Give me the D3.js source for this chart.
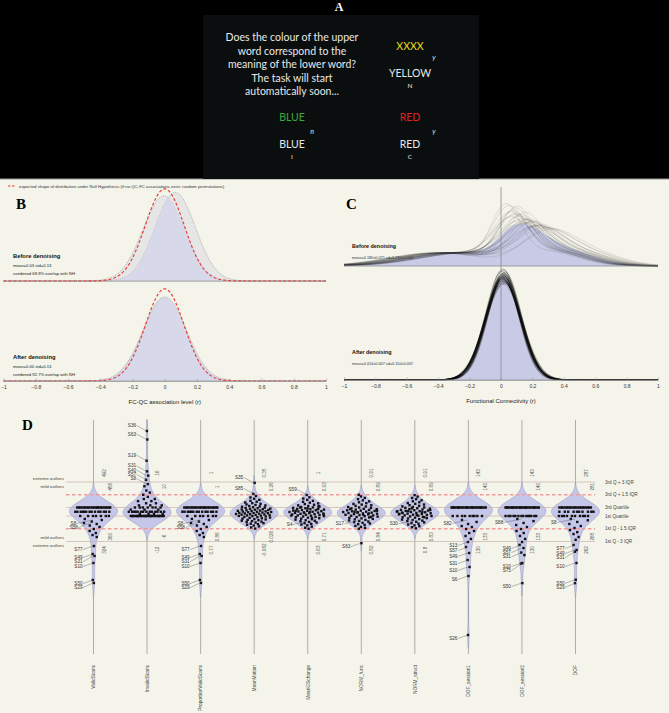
<!DOCTYPE html>
<html>
<head>
<meta charset="utf-8">
<script src="https://cdn.jsdelivr.net/npm/d3@7"></script>
<style>
body { margin: 0; background: #000; }
svg { display: block; }
</style>
</head>
<body>
<div id="chart"></div>
<script>
var w = 669, h = 713;

// ---------- panel A: task screen ----------
var promptLines = ["Does the colour of the upper", "word correspond to the",
  "meaning of the lower word?", "The task will start", "automatically soon..."];
var upperWords = ["XXXX", "BLUE", "RED"];
var upperInks = ["yellow", "green", "red"];
var lowerWords = ["YELLOW", "BLUE", "RED"];
var answers = ["y", "n", "y"];
var trialCodes = ["N", "I", "C"];

// ---------- panel B: QC-FC distributions ----------
var bTicks = [-1, -0.8, -0.6, -0.4, -0.2, 0, 0.2, 0.4, 0.6, 0.8, 1];
var bNullMean = 0, bNullSd = 0.12;
var bBeforeMeans = [-0.005, 0.065], bBeforeSds = [0.13, 0.125];
var bAfterMeans = [-0.003, 0.003], bAfterSds = [0.132, 0.132];
var bStats = ["mean=0.03 std=0.13", "mean=0.00 std=0.13"];
var bOverlap = ["combined 68.8% overlap with NH", "combined 92.7% overlap with NH"];

// ---------- panel C: FC distributions (one curve per subject) ----------
var cBeforePeaks = [0.03,0.05,0.06,0.07,0.08,0.09,0.1,0.1,0.11,0.12,0.13,0.14,0.15,0.16,0.17,
  0.18,0.19,0.2,0.21,0.22,0.24,0.26,0.28,0.3,0.06,0.09,0.12,0.15,0.18,0.23];
var cBeforeWidths = [0.09,0.1,0.11,0.1,0.12,0.11,0.1,0.13,0.12,0.11,0.13,0.12,0.14,0.13,0.12,
  0.14,0.15,0.13,0.14,0.15,0.14,0.16,0.15,0.16,0.12,0.1,0.14,0.11,0.13,0.15];
var cBeforeTails = [-0.36,-0.22,-0.3,-0.4,-0.26,-0.33,-0.2,-0.38,-0.28,-0.35,-0.24,-0.42,-0.31,-0.27,-0.37,
  -0.21,-0.34,-0.29,-0.39,-0.25,-0.32,-0.23,-0.41,-0.3,-0.36,-0.27,-0.33,-0.22,-0.38,-0.29];
var cAfterMeans = [0.005,0.008,0.01,0.012,0.013,0.014,0.015,0.016,0.018,0.02,0.022,0.025,0.006,0.009,0.011,
  0.014,0.017,0.019,0.021,0.024,0.012,0.015,0.01,0.018,0.013,0.016,0.008,0.02,0.014,0.011];
var cAfterSds = [0.104,0.107,0.11,0.112,0.108,0.115,0.106,0.111,0.113,0.109,0.117,0.105,0.11,0.112,0.108,
  0.114,0.103,0.116,0.11,0.107,0.113,0.109,0.111,0.106,0.118,0.11,0.112,0.108,0.115,0.102];
var cStats = ["mean=0.180\u00b10.071 sd=0.230\u00b10.050", "mean=0.014\u00b10.007 sd=0.110\u00b10.007"];

// ---------- panel D: QC measures, values in IQR units above the 1st quartile ----------
var dVars = ["ValidScans", "InvalidScans", "ProportionValidScans", "MeanMotion", "MeanGSchange",
  "NORM_func", "NORM_struct", "DOF_session1", "DOF_session2", "DOF"];
var dDiscrete = [true, true, true, false, false, false, false, true, true, true];
var validScansZ = [[1,22],[0.5,14],[0,7],[-0.35,1],[-0.47,1],[-0.65,1],[-0.82,1],[-0.94,1],[-1.12,1],
  [-1.29,1],[-1.53,1],[-1.76,1],[-2,1],[-2.24,1],[-2.47,1],[-3.53,1],[-4.47,1],[-4.7,1],[-5.53,1],[-7.53,1],[-7.88,1]];
var invalidScansZ = [[0,26],[0.25,4],[0.5,14],[0.75,3],[1,7],[1.25,3],[1.5,2],[1.75,2],[2,2],[2.25,1],
  [2.5,1],[2.75,1],[3,1],[3.5,1],[3.75,1],[4.25,1],[4.75,1],[5.25,1],[6.5,1],[9,1],[10,1]];
var proportionZ = [[1,22],[0.5,14],[0,7],[-0.35,1],[-0.47,1],[-0.65,1],[-0.82,1],[-0.94,1],[-1.12,1],
  [-1.29,1],[-1.53,1],[-1.76,1],[-2,1],[-2.24,1],[-2.47,1],[-3.53,1],[-4.47,1],[-4.7,1],[-5.53,1],[-7.53,1],[-7.88,1]];
var meanMotionZ = [-1.48,-1.35,-1.22,-1.12,-1.03,-0.96,-0.9,-0.84,-0.77,-0.71,-0.66,-0.6,-0.55,-0.49,-0.45,
  -0.4,-0.36,-0.31,-0.27,-0.22,-0.18,-0.14,-0.1,-0.06,-0.02,0.01,0.04,0.07,0.1,0.13,0.16,0.18,0.21,0.24,
  0.27,0.3,0.33,0.35,0.38,0.41,0.44,0.47,0.5,0.52,0.55,0.58,0.61,0.64,0.67,0.7,0.74,0.77,0.8,0.84,0.87,
  0.91,0.95,0.99,1.03,1.08,1.13,1.18,1.24,1.3,1.36,1.43,1.51,1.59,1.68,1.78,1.9,2.03,2.18,2.35,2.6,3.9];
var meanGSZ = [-1.5,-1.38,-1.25,-1.1,-1.0,-0.92,-0.85,-0.76,-0.7,-0.62,-0.56,-0.5,-0.43,-0.38,-0.32,-0.26,
  -0.2,-0.15,-0.11,-0.06,-0.01,0.03,0.07,0.11,0.15,0.18,0.22,0.26,0.29,0.33,0.36,0.4,0.43,0.47,0.5,0.54,
  0.57,0.61,0.64,0.68,0.71,0.75,0.79,0.83,0.87,0.91,0.96,1.01,1.06,1.12,1.18,1.25,1.32,1.4,1.48,1.57,
  1.67,1.78,1.9,2.05,2.2,2.47,0.2,0.45,0.6,0.8,0.35,0.05,-0.25,1.0,1.15,0.9];
var normFuncZ = [-3.2,-1.5,-1.4,-1.28,-1.16,-1.05,-0.96,-0.88,-0.8,-0.72,-0.65,-0.58,-0.52,-0.46,-0.4,-0.34,
  -0.28,-0.22,-0.17,-0.12,-0.07,-0.02,0.03,0.07,0.11,0.15,0.19,0.23,0.27,0.31,0.35,0.39,0.43,0.47,0.51,
  0.55,0.59,0.63,0.67,0.71,0.75,0.8,0.85,0.9,0.95,1.0,1.06,1.12,1.19,1.26,1.34,1.42,1.51,1.61,1.72,1.84,
  1.98,2.13,2.3,2.5,0.3,0.5,0.62,0.15,0.8,-0.1,0.42];
var normStructZ = [-1.45,-1.32,-1.2,-1.1,-1.0,-0.91,-0.83,-0.75,-0.68,-0.61,-0.54,-0.48,-0.42,-0.36,-0.3,
  -0.25,-0.2,-0.15,-0.1,-0.05,0.0,0.04,0.08,0.12,0.16,0.2,0.24,0.28,0.32,0.36,0.4,0.44,0.48,0.52,0.56,
  0.6,0.64,0.68,0.72,0.76,0.81,0.86,0.91,0.96,1.01,1.07,1.13,1.2,1.27,1.35,1.43,1.52,1.62,1.73,1.85,
  1.98,2.12,2.28,2.45,0.25,0.45,0.58,0.7,0.1,0.35,-0.15,0.9,0.55];
var dof1Z = [[1,26],[0,9],[-0.47,1],[-0.7,1],[-0.94,1],[-1.18,1],[-1.3,1],[-1.53,1],[-1.76,1],[-2,1],
  [-2.35,1],[-2.7,1],[-3.06,1],[-3.65,1],[-4.35,1],[-5.18,1],[-6,1],[-7.06,1],[-14,1]];
var dof2Z = [[1,26],[0,14],[-0.35,1],[-0.6,1],[-0.82,1],[-1.06,1],[-1.3,1],[-1.53,1],[-1.76,1],[-2,1],
  [-2.35,1],[-2.7,1],[-3.06,1],[-3.4,1],[-3.77,1],[-4.3,1],[-4.6,1],[-5.53,1],[-5.6,1],[-7.9,1]];
var dofZ = [[1,20],[0.5,10],[0,10],[-0.35,1],[-0.5,1],[-0.7,1],[-0.94,1],[-1.18,1],[-1.41,1],[-1.65,1],
  [-1.9,1],[-2.12,1],[-2.47,1],[-2.8,1],[-3.41,1],[-4,1],[-4.2,1],[-5.53,1],[-7.5,1],[-7.9,1]];
var dValues = [validScansZ, invalidScansZ, proportionZ, meanMotionZ, meanGSZ, normFuncZ, normStructZ, dof1Z, dof2Z, dofZ];

// outlier labels: [subject, position in IQR units]
var dOutliers = [
  [["S8",-0.47],["S58",-0.65],["S77",-3.53],["S49",-4.47],["S31",-4.7],["S10",-5.53],["S50",-7.53],["S29",-7.88]],
  [["S36",10],["S63",9],["S19",6.5],["S31",5.25],["S40",4.75],["S57",4.25],["S8",3.75]],
  [["S8",-0.47],["S58",-0.65],["S77",-3.53],["S49",-4.47],["S31",-4.7],["S10",-5.53],["S50",-7.53],["S29",-7.88]],
  [["S35",3.9],["S85",2.6]],
  [["S59",2.47],["S4",-0.6]],
  [["S17",-0.5],["S63",-3.2]],
  [["S30",-0.5]],
  [["S82",-0.47],["S13",-3.06],["S57",-3.65],["S49",-4.35],["S31",-5.18],["S10",-6],["S6",-7.06],["S26",-14]],
  [["S88",-0.35],["S49",-3.4],["S57",-3.77],["S31",-4.3],["S10",-5.53],["S75",-5.6],["S50",-7.9]],
  [["S8",-0.35],["S77",-3.41],["S49",-4],["S31",-4.2],["S10",-5.53],["S50",-7.5],["S29",-7.9]]
];
var dUpperVals = [["492","456"],["16","10"],["1","1"],["0.35","0.26"],["1","0.93"],
  ["0.91","0.89"],["0.91","0.89"],["143","140"],["143","140"],["287","281"]];
var dLowerVals = [["360","324"],["-6","-12"],["0.86","0.77"],["0.026","-0.062"],["0.71","0.63"],
  ["0.84","0.82"],["0.83","0.8"],["133","130"],["133","130"],["268","262"]];
var refLevels = [4, 2.5, 1, 0, -1.5, -3];
var refNames = ["3rd Q + 3 IQR", "3rd Q + 1.5 IQR", "3rd Quartile", "1st Quartile", "1st Q - 1.5 IQR", "1st Q - 3 IQR"];
var outlierNames = [["extreme outliers", 4, -1], ["mild outliers", 4, 1], ["mild outliers", -3, -1], ["extreme outliers", -3, 1]];

// ------------------------------------------------------------------
var sans = "Liberation Sans, Arial, sans-serif";
var serif = "Liberation Serif, Times New Roman, serif";

var svg = d3.select("#chart").append("svg")
  .attr("width", w)
  .attr("height", h);

svg.append("rect").attr("width", w).attr("height", h).attr("fill", "#f4f4ea");
svg.append("rect").attr("width", w).attr("height", 179).attr("fill", "#000");
svg.append("line").attr("x1", 0).attr("x2", w).attr("y1", 179).attr("y2", 179)
  .attr("stroke", "#9a9a9a").attr("stroke-width", 1);

function npdf(x, m, s) {
  return Math.exp(-0.5 * Math.pow((x - m) / s, 2)) / (s * Math.sqrt(2 * Math.PI));
}

function panelLetter(txt, x, y, col) {
  svg.append("text").attr("x", x).attr("y", y).text(txt)
    .style("font-family", serif).style("font-weight", "bold")
    .style("font-size", "15px").attr("fill", col || "#000");
}

// ---------------- A ----------------
svg.append("text").attr("x", 339).attr("y", 11).attr("text-anchor", "middle").text("A")
  .style("font-family", serif).style("font-weight", "bold").style("font-size", "12px").attr("fill", "#fff");
svg.append("rect").attr("x", 203).attr("y", 15).attr("width", 276).attr("height", 164).attr("fill", "#0b0e0e");

var inkColor = { yellow: "#e6dd1c", green: "#3daa3a", red: "#e5201c" };
var stroopFont = "Lato, Open Sans, sans-serif";
svg.selectAll(".prompt").data(promptLines).enter().append("text")
  .attr("x", 292).attr("y", function(d, i) { return 41 + i * 13.5; })
  .attr("text-anchor", "middle").text(function(d) { return d; })
  .style("font-family", stroopFont).style("font-size", "10.5px").attr("fill", "#e8e8e8");

var slotX = [410, 292, 410], slotY = [50, 121, 121];
upperWords.forEach(function(word, i) {
  var x = slotX[i], y = slotY[i];
  svg.append("text").attr("x", x).attr("y", y).attr("text-anchor", "middle").text(word)
    .style("font-family", stroopFont).style("font-size", "10.5px").attr("fill", inkColor[upperInks[i]]);
  svg.append("text").attr("x", x).attr("y", y + 27).attr("text-anchor", "middle").text(lowerWords[i])
    .style("font-family", stroopFont).style("font-size", "10.5px").attr("fill", "#e8e8e8");
  svg.append("text").attr("x", x + (i == 1 ? 20 : 24)).attr("y", y + (i == 0 ? 10 : 13)).text(answers[i])
    .attr("text-anchor", "middle")
    .style("font-family", stroopFont).style("font-style", "italic").style("font-size", "7px").attr("fill", "#e8e8e8");
  svg.append("text").attr("x", x).attr("y", y + 38).attr("text-anchor", "middle").text(trialCodes[i])
    .style("font-family", stroopFont).style("font-size", "6.5px").attr("fill", "#e8e8e8");
});

// ---------------- B ----------------
var xB = d3.scaleLinear().domain([-1, 1]).range([3.5, 326]);
var hB = d3.scaleLinear().domain([0, 3.32]).range([0, 92]);
var grid = d3.range(-1, 1.0001, 0.005);

svg.append("line").attr("x1", 8).attr("x2", 16).attr("y1", 186).attr("y2", 186)
  .attr("stroke", "#e8413c").attr("stroke-width", 1.2).attr("stroke-dasharray", "2.5,1.5");
svg.append("text").attr("x", 19).attr("y", 187.6)
  .text("expected shape of distribution under Null Hypothesis (if no QC-FC associations exist; random permutations)")
  .style("font-family", sans).style("font-size", "4.3px").attr("fill", "#333");
panelLetter("B", 16, 209);

function drawB(base, means, sds, label, stats, overlap, textY) {
  var c1 = grid.map(function(x) { return npdf(x, means[0], sds[0]); });
  var c2 = grid.map(function(x) { return npdf(x, means[1], sds[1]); });
  var low = c1.map(function(v, i) { return Math.min(v, c2[i]); });
  var nul = grid.map(function(x) { return npdf(x, bNullMean, bNullSd); });
  var area = d3.area().x(function(d, i) { return xB(grid[i]); }).y0(base).y1(function(d) { return base - hB(d); });
  var line = d3.line().x(function(d, i) { return xB(grid[i]); }).y(function(d) { return base - hB(d); });
  [c1, c2].forEach(function(c) {
    svg.append("path").attr("d", area(c)).attr("fill", "#e2e2e5").attr("fill-opacity", 0.8)
      .attr("stroke", "#8c8c92").attr("stroke-width", 0.6).attr("stroke-dasharray", "1.2,1");
  });
  svg.append("path").attr("d", area(low)).attr("fill", "#d7d8ea");
  svg.append("line").attr("x1", xB(-1)).attr("x2", xB(1)).attr("y1", base).attr("y2", base)
    .attr("stroke", "#a0a0a0").attr("stroke-width", 0.8);
  svg.append("path").attr("d", line(nul)).attr("fill", "none").attr("stroke", "#e8413c")
    .attr("stroke-width", 1.2).attr("stroke-dasharray", "3,2");
  svg.append("text").attr("x", 13).attr("y", textY).text(label)
    .style("font-family", sans).style("font-weight", "bold").style("font-size", "5.8px").attr("fill", "#111");
  svg.append("text").attr("x", 13).attr("y", textY + 8.5).text(stats)
    .style("font-family", sans).style("font-size", "4.2px").attr("fill", "#222");
  svg.append("text").attr("x", 13).attr("y", textY + 17).text(overlap)
    .style("font-family", sans).style("font-size", "4.2px").attr("fill", "#222");
}
drawB(281, bBeforeMeans, bBeforeSds, "Before denoising", bStats[0], bOverlap[0], 258);
drawB(381, bAfterMeans, bAfterSds, "After denoising", bStats[1], bOverlap[1], 359);

function bottomAxis(scale, y, title, cx) {
  var g = svg.append("g").attr("transform", "translate(0," + y + ")")
    .call(d3.axisBottom(scale).tickValues(bTicks).tickFormat(d3.format("~g"))
      .tickSizeInner(-2.5).tickSizeOuter(0).tickPadding(4));
  g.select(".domain").attr("stroke", "#a0a0a0").attr("stroke-width", 0.8);
  g.selectAll(".tick line").attr("stroke", "#999").attr("stroke-width", 0.6);
  g.selectAll(".tick text").style("font-family", sans).style("font-size", "5px").attr("fill", "#333");
  svg.append("text").attr("x", cx).attr("y", y + 23).attr("text-anchor", "middle").text(title)
    .style("font-family", sans).style("font-size", "6px").attr("fill", "#222");
}
bottomAxis(xB, 381, "FC-QC association level (r)", xB(0));

// ---------------- C ----------------
var xC = d3.scaleLinear().domain([-1, 1]).range([344, 658]);
var hC = d3.scaleLinear().domain([0, 3.63]).range([0, 103]);
panelLetter("C", 346, 209);

function beforeDensity(x, m, s, tail) {
  return 0.4 * npdf(x, m, s) + 0.25 * npdf(x, m + 0.25, 0.2) + 0.35 * npdf(x, tail, 0.3);
}
var cBeforeCurves = cBeforePeaks.map(function(m, i) {
  return grid.map(function(x) { return beforeDensity(x, m, cBeforeWidths[i], cBeforeTails[i]); });
});
var cAfterCurves = cAfterMeans.map(function(m, i) {
  return grid.map(function(x) { return npdf(x, m, cAfterSds[i]); });
});

function drawC(base, curves, strokeCol, opacity, sw) {
  var avg = grid.map(function(x, k) { return d3.mean(curves, function(c) { return c[k]; }); });
  var area = d3.area().x(function(d, i) { return xC(grid[i]); }).y0(base).y1(function(d) { return base - hC(d); });
  var line = d3.line().x(function(d, i) { return xC(grid[i]); }).y(function(d) { return base - hC(d); });
  svg.append("path").attr("d", area(avg)).attr("fill", "#c9cbe6");
  svg.append("g").selectAll("path").data(curves).enter().append("path")
    .attr("d", line).attr("fill", "none").attr("stroke", strokeCol)
    .attr("stroke-opacity", opacity).attr("stroke-width", sw);
  svg.append("line").attr("x1", xC(-1)).attr("x2", xC(1)).attr("y1", base).attr("y2", base)
    .attr("stroke", "#8a8a8a").attr("stroke-width", 0.8);
}
drawC(266, cBeforeCurves, "#2a2a2a", 0.32, 0.4);
drawC(380, cAfterCurves, "#0a0a0a", 0.4, 0.7);
svg.append("line").attr("x1", xC(0)).attr("x2", xC(0)).attr("y1", 187).attr("y2", 380)
  .attr("stroke", "#888").attr("stroke-width", 0.8);
bottomAxis(xC, 380, "Functional Connectivity (r)", xC(0));

[["Before denoising", 248, cStats[0]], ["After denoising", 354, cStats[1]]].forEach(function(t) {
  svg.append("text").attr("x", 352).attr("y", t[1]).text(t[0])
    .style("font-family", sans).style("font-weight", "bold").style("font-size", "5.4px").attr("fill", "#111");
  svg.append("text").attr("x", 352).attr("y", t[1] + 10.5).text(t[2])
    .style("font-family", sans).style("font-size", "3.8px").attr("fill", "#333");
});

// ---------------- D ----------------
panelLetter("D", 22, 430);
var dX = d3.scalePoint().domain(dVars).range([93.5, 575.5]);
var zY = d3.scaleLinear().domain([0, 1]).range([516, 507.5]);
var zGrid = d3.range(-16.5, 11.6, 0.05);
var lineTop = 420, lineBottom = 654;

function expand(vals) {
  var out = [];
  vals.forEach(function(v) {
    if (Array.isArray(v)) { for (var k = 0; k < v[1]; k++) out.push(v[0]); }
    else out.push(v);
  });
  return out;
}

// vertical axis lines
svg.append("g").selectAll("line").data(dVars).enter().append("line")
  .attr("x1", function(d) { return dX(d); }).attr("x2", function(d) { return dX(d); })
  .attr("y1", lineTop).attr("y2", lineBottom)
  .attr("stroke", "#9a9a9a").attr("stroke-width", 0.8);

// violins
var dInfo = dVars.map(function(name, j) {
  var vals = expand(dValues[j]);
  var bw = dDiscrete[j] ? 1.0 : 0.6;
  var dens = function(z) { return d3.sum(vals, function(v) { var u = (z - v) / bw; return Math.exp(-0.5 * u * u); }); };
  var pts = zGrid.map(function(z) { return { z: z, d: dens(z) }; });
  var half = d3.scaleLinear().domain([0, d3.max(pts, function(p) { return p.d; })]).range([0, 24]);
  var cx = dX(name);
  var area = d3.area()
    .y(function(p) { return zY(p.z); })
    .x0(function(p) { return cx - half(p.d); })
    .x1(function(p) { return cx + half(p.d); });
  svg.append("path").attr("d", area(pts.filter(function(p) { return half(p.d) > 0.2; })))
    .attr("fill", "#c5c7ea").attr("stroke", "#8e90b4").attr("stroke-width", 0.5);
  return { vals: vals, dens: dens, half: half, cx: cx };
});

// reference lines
var xLeft = 66, xRight = 595;
refLevels.forEach(function(z) {
  var dashed = Math.abs(z) == 1.5 || z == 2.5;
  svg.append("line").attr("x1", xLeft).attr("x2", xRight).attr("y1", zY(z)).attr("y2", zY(z))
    .attr("stroke", dashed ? "#f19c9c" : "#c7b1aa")
    .attr("stroke-width", dashed ? 1.6 : 0.7)
    .attr("stroke-dasharray", dashed ? "3.5,2.5" : null);
});
svg.selectAll(".refname").data(refNames).enter().append("text")
  .attr("x", 605).attr("y", function(d, i) { return zY(refLevels[i]) + 1.6; })
  .text(function(d) { return d; })
  .style("font-family", sans).style("font-size", "4.6px").attr("fill", "#444");
outlierNames.forEach(function(o) {
  svg.append("text").attr("x", 64).attr("y", zY(o[1]) + (o[2] < 0 ? -2.5 : 5.5))
    .attr("text-anchor", "end").text(o[0])
    .style("font-family", sans).style("font-size", "4.4px").attr("fill", "#444");
});

// dots
dInfo.forEach(function(info, j) {
  var g = svg.append("g");
  info.vals.forEach(function(v, k) {
    var f = ((k + 1) * 0.6180339887) % 1;
    var x = info.cx + (2 * f - 1) * info.half(info.dens(v)) * 0.78;
    g.append("rect").attr("x", x - 1.2).attr("y", zY(v) - 1.2)
      .attr("width", 2.4).attr("height", 2.4).attr("fill", "#121212");
  });
});

// outlier labels with leader lines
dOutliers.forEach(function(list, j) {
  var info = dInfo[j];
  var lows = list.filter(function(o) { return o[1] <= 1; }).sort(function(a, b) { return b[1] - a[1]; });
  var highs = list.filter(function(o) { return o[1] > 1; }).sort(function(a, b) { return a[1] - b[1]; });
  var last = -1e9;
  var placed = [];
  lows.forEach(function(o) {
    var ly = Math.max(zY(o[1]) + 5, last + 4.2); last = ly; placed.push([o, ly]);
  });
  last = 1e9;
  highs.forEach(function(o) {
    var ly = Math.min(zY(o[1]) - 4, last - 4.2); last = ly; placed.push([o, ly]);
  });
  placed.forEach(function(p) {
    var o = p[0], ly = p[1], dotY = zY(o[1]);
    var hw = info.half(info.dens(o[1]));
    var xEnd = info.cx - Math.max(11, hw * 0.9 + 2);
    svg.append("line").attr("x1", xEnd + 0.5).attr("y1", ly - 1.5).attr("x2", info.cx - 0.5).attr("y2", dotY)
      .attr("stroke", "#555").attr("stroke-width", 0.4);
    svg.append("text").attr("x", xEnd).attr("y", ly).attr("text-anchor", "end").text(o[0])
      .style("font-family", sans).style("font-size", "4.6px").attr("fill", "#333");
  });
});

// fence values beside each line
function rotText(x, y, txt, anchor) {
  svg.append("text").attr("transform", "translate(" + x + "," + y + ") rotate(-90)")
    .attr("text-anchor", anchor).text(txt)
    .style("font-family", sans).style("font-size", "4.6px").attr("fill", "#555");
}
dVars.forEach(function(name, j) {
  var cx = dX(name);
  rotText(cx + 12, zY(4) - 9, dUpperVals[j][0], "middle");
  rotText(cx + 18.5, zY(2.5) - 8, dUpperVals[j][1], "middle");
  rotText(cx + 18.5, zY(-1.5) + 8, dLowerVals[j][0], "middle");
  rotText(cx + 12, zY(-3) + 8.5, dLowerVals[j][1], "middle");
  svg.append("text").attr("transform", "translate(" + (cx + 1.8) + ",665) rotate(-90)")
    .attr("text-anchor", "end").text(name)
    .style("font-family", sans).style("font-size", "4.8px").attr("fill", "#444");
});
</script>
</body>
</html>
